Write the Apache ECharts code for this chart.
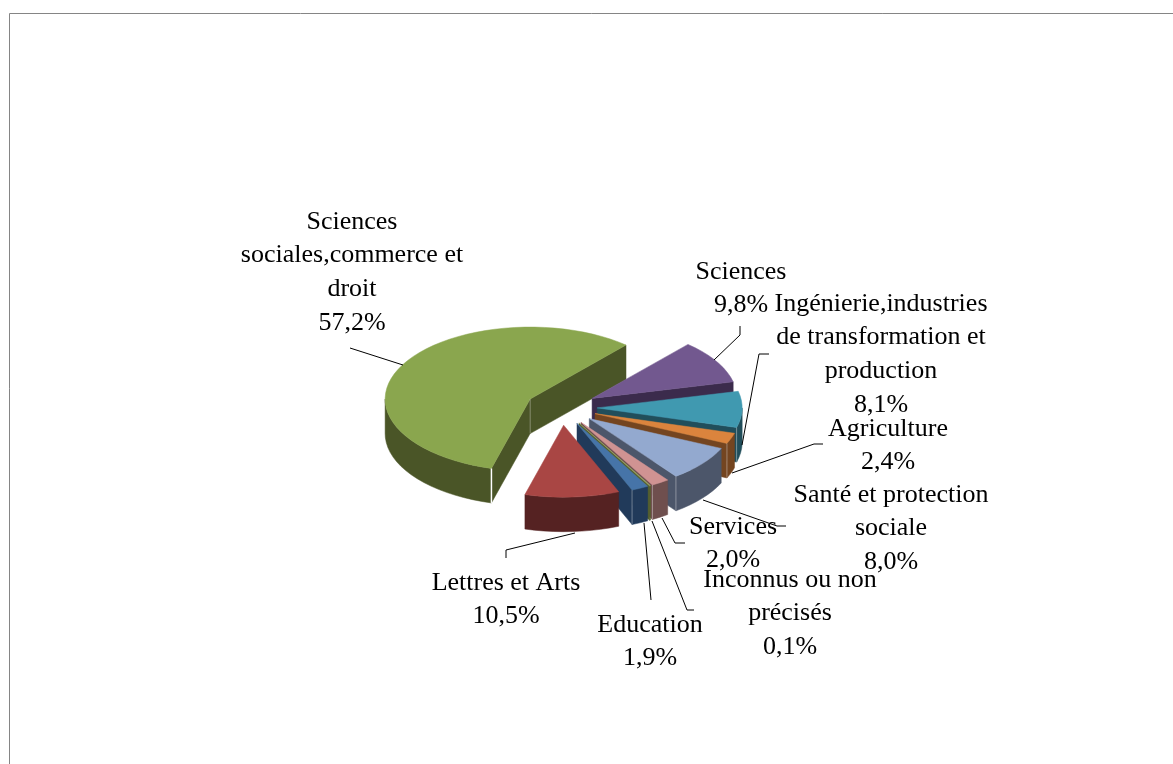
<!DOCTYPE html>
<html>
<head>
<meta charset="utf-8">
<style>html,body{margin:0;padding:0;background:#fff}#c{width:1173px;height:764px}</style>
<script src="https://cdn.jsdelivr.net/npm/echarts@6/dist/echarts.min.js"></script>
</head>
<body>
<div id="c"></div>
<script>
// Data, clockwise from the big slice's far edge
const names = ['Sciences\nsociales,commerce et\ndroit','Sciences','Ingénierie,industries\nde transformation et\nproduction','Agriculture','Santé et protection\nsociale','Services','Inconnus ou non\nprécisés','Education','Lettres et Arts'];
const shares = [57.2, 9.8, 8.1, 2.4, 8.0, 2.0, 0.1, 1.9, 10.5];
const topColors = ['#8aa64e','#72588f','#4099b0','#db843d','#93a9cf','#d09392','#9aa96a','#4674a8','#a94644'];
const sideColors = ['#4a5527','#3b2b4c','#214e5b','#744520','#4c566a','#6f4f4e','#55602f','#213a5a','#552222'];
// Layout of the tilted pie
const pieCX = 561.5, pieCY = 407.5, pieRX = 145, pieRY = 72, pieDepth = 34.5, explode = 0.246;
const firstEnd = 48.6; // clockwise angle where the big slice ends
const labelX = [352, 741, 881, 888, 891, 733, 790, 650, 506];
const labelY = [205, 255, 287, 412, 478, 510, 563, 608, 566];
const leaders = [
  [[350,348],[403,365]],
  [[740,326],[740,335],[714,360]],
  [[769,354],[759,354],[742,445]],
  [[823,444],[814,444],[732,473]],
  [[786,526],[777,526],[703,500]],
  [[685,543],[675,543],[662,518]],
  [[694,610],[687,610],[652,521]],
  [[651,600],[644,523]],
  [[506,558],[506,550],[575,533]]
];
const rad = d => d * Math.PI / 180;
function sliceAngles(i) {
  // Big slice ends at firstEnd; the others follow clockwise
  let from = firstEnd;
  if (i === 0) return [firstEnd + shares[0] * 3.6, firstEnd];
  for (let k = 1; k < i; k++) from -= shares[k] * 3.6;
  return [from, from - shares[i] * 3.6];
}
function renderSlice(params, api) {
  const i = params.dataIndex, v = api.value(0);
  const [a0, a1] = sliceAngles(i);
  const mid = (a0 + a1) / 2;
  const ax = pieCX + explode * pieRX * Math.cos(rad(mid));
  const ay = pieCY - explode * pieRY * Math.sin(rad(mid));
  const P = t => [ax + pieRX * Math.cos(rad(t)), ay - pieRY * Math.sin(rad(t))];
  const down = p => [p[0], p[1] + pieDepth];
  const n = Math.max(1, Math.ceil((a0 - a1) / 4));
  const ts = [];
  for (let k = 0; k <= n; k++) ts.push(a0 + (a1 - a0) * k / n);
  const arc = ts.map(P);
  // The outer wall only shows on the near half of the ellipse
  const nearTs = ts.concat([0, 180].filter(t => t < a0 && t > a1)).sort((a, b) => b - a)
    .filter(t => Math.sin(rad(t)) <= 1e-6);
  const near = nearTs.map(P);
  const apex = [ax, ay], s = arc[0], e = arc[arc.length - 1];
  const kids = [];
  const poly = (pts, fill) => ({type:'polygon', shape:{points:pts}, style:{fill, stroke:fill, lineWidth:0.5}});
  const line = (a, b, col, w) => ({type:'line', shape:{x1:a[0],y1:a[1],x2:b[0],y2:b[1]}, style:{stroke:col, lineWidth:w}});
  const side = sideColors[i];
  if (near.length > 1) kids.push(poly(near.concat(near.map(down).reverse()), side));
  const startVisible = Math.cos(rad(a0)) < 0, endVisible = Math.cos(rad(a1)) > 0;
  if (startVisible) kids.push(poly([apex, s, down(s), down(apex)], side));
  if (endVisible) kids.push(poly([apex, e, down(e), down(apex)], side));
  kids.push(poly([apex].concat(arc), topColors[i]));
  if (endVisible && v >= 1 && Math.sin(rad(a1)) < 0) kids.push(line(e, down(e), 'rgba(255,255,255,0.35)', 1));
  if (startVisible) {
    kids.push(line(s, down(s), '#ffffff', 1.5));
    kids.push(line(apex, down(apex), 'rgba(255,255,255,0.3)', 1));
  }
  return {type:'group', children:kids};
}
const pct = v => v.toFixed(1).replace('.', ',') + '%';
const graphics = [{type:'polyline', silent:true, z:1, shape:{points:[[9.5,764],[9.5,13.5],[1173,13.5]]}, style:{stroke:'#858585', fill:null, lineWidth:1}}];
leaders.forEach(pts => graphics.push({type:'polyline', silent:true, z:5, shape:{points:pts}, style:{stroke:'#000', fill:null, lineWidth:1}}));
names.forEach((nm, i) => graphics.push({type:'text', silent:true, z:6, x:labelX[i], y:labelY[i],
  style:{text:nm + '\n' + pct(shares[i]), align:'center', verticalAlign:'top', fill:'#000',
         font:'26px "Liberation Serif"', lineHeight:33.7}}));
const chart = echarts.init(document.getElementById('c'), null, {renderer:'canvas'});
chart.setOption({
  animation:false,
  backgroundColor:'#fff',
  series:[{type:'custom', coordinateSystem:'none', silent:true, z:3, renderItem:renderSlice, data:shares.map((v,i)=>({value:[v], name:names[i]}))}],
  graphic:graphics
});
</script>
</body>
</html>
